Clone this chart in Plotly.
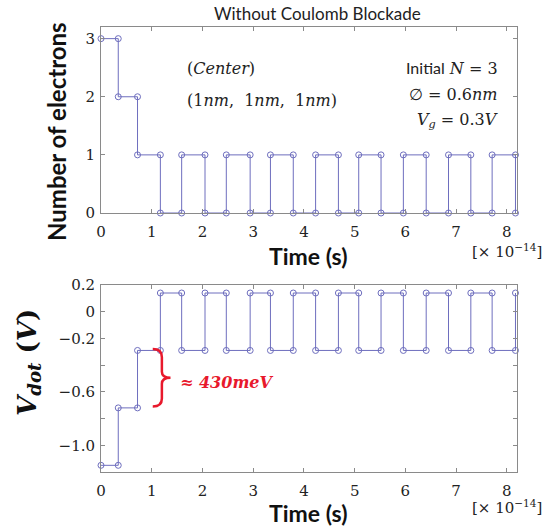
import plotly.graph_objects as go

# ---- data ----
switch_times = [0, 0.34, 0.72, 1.17, 1.59, 2.05, 2.47, 2.94, 3.34, 3.79, 4.23,
                4.68, 5.08, 5.52, 5.96, 6.41, 6.85, 7.29, 7.71, 8.17]
n_electrons = [3, 2, 1, 0, 1, 0, 1, 0, 1, 0, 1, 0, 1, 0, 1, 0, 1, 0, 1, 0]
v_dot = [-1.15, -0.72, -0.29, 0.14, -0.29, 0.14, -0.29, 0.14, -0.29, 0.14, -0.29,
         0.14, -0.29, 0.14, -0.29, 0.14, -0.29, 0.14, -0.29, 0.14]
x_ticks = [0, 1, 2, 3, 4, 5, 6, 7, 8]
y1_ticks = [0, 1, 2, 3]
y2_ticks = [-1.0, -0.6, -0.2, 0, 0.2]
y2_ticktext = ["−1.0", "−0.6", "−0.2", "0", "0.2"]
y2_minor_ticks = [-0.8, -0.4]


def steps(t, v):
    xs, ys = [], []
    for i in range(len(t) - 1):
        xs += [t[i], t[i + 1]]
        ys += [v[i], v[i]]
    xs.append(t[-1])
    ys.append(v[-1])
    return xs, ys


W, H = 556, 529
ML, MR, MT, MB = 101, 39, 27, 57
PW, PH = W - ML - MR, H - MT - MB


def px(x):
    return (x - ML) / PW


def py(y):
    return (H - MB - y) / PH


LINE = "#6e6ebe"
AX = "#8a8a8a"
SERIF = "DejaVu Serif"
SANS = "Lato"

fig = go.Figure()
x1, y1 = steps(switch_times, n_electrons)
x2, y2 = steps(switch_times, v_dot)
for xs, ys, xa, ya in [(x1, y1, "x", "y"), (x2, y2, "x2", "y2")]:
    fig.add_trace(go.Scatter(
        x=xs, y=ys, xaxis=xa, yaxis=ya, mode="lines+markers",
        line=dict(color=LINE, width=1),
        marker=dict(symbol="circle-open", size=6, color=LINE, line=dict(width=1)),
        cliponaxis=False, showlegend=False, hoverinfo="skip"))

axcommon = dict(showline=True, linecolor=AX, linewidth=1, mirror="ticks",
                ticks="inside", ticklen=4, tickcolor=AX, showgrid=False,
                zeroline=False, tickfont=dict(family=SERIF, size=15, color="#222"))

top_bottom = (H - MB - 213) / PH
bot_top = (H - MB - 285) / PH

fig.update_layout(
    width=W, height=H, plot_bgcolor="white", paper_bgcolor="white",
    margin=dict(l=ML, r=MR, t=MT, b=MB),
    xaxis=dict(domain=[0, 1], anchor="y", range=[0, 8.2], tickvals=x_ticks,
               ticklabelstandoff=5, **axcommon),
    yaxis=dict(domain=[top_bottom, 1], anchor="x", range=[0, 3.2], tickvals=y1_ticks,
               ticklabelstandoff=2, **axcommon),
    xaxis2=dict(domain=[0, 1], anchor="y2", range=[0, 8.2], tickvals=x_ticks,
                ticklabelstandoff=5, **axcommon),
    yaxis2=dict(domain=[0, bot_top], anchor="x2", range=[-1.2, 0.2], tickvals=y2_ticks,
                ticktext=y2_ticktext, ticklabelstandoff=2,
                minor=dict(tickvals=y2_minor_ticks, ticks="inside", ticklen=4, tickcolor=AX),
                **axcommon),
)

ann = []


def add(text, x, y, size, family, color="#111", xanchor="center", angle=0):
    ann.append(dict(text=text, x=px(x), y=py(y), xref="paper", yref="paper",
                    showarrow=False, xanchor=xanchor, yanchor="middle", textangle=angle,
                    font=dict(family=family, size=size, color=color)))


add("Without Coulomb Blockade", 317, 13, 17, SANS, "#222")
add("<b>Number of electrons</b>", 56, 132, 24, SANS, "#111", angle=-90)
add("<b>Time (s)</b>", 308, 256, 23, SANS)
add("<b>Time (s)</b>", 308, 513, 23, SANS)
add("[× 10<sup>−14</sup>]", 507, 251, 15, SERIF, "#222")
add("[× 10<sup>−14</sup>]", 507, 507, 15, SERIF, "#222")
add("(<i>Center</i>)", 185, 68, 16, SERIF, "#222", xanchor="left")
add("(1<i>nm</i>,  1<i>nm</i>,  1<i>nm</i>)", 185, 100, 16, SERIF, "#222", xanchor="left")
add("<span style='font-family:Lato'>Initial</span> <i>N</i> = 3", 500, 68, 16, SERIF, "#222", xanchor="right")
add("∅ = 0.6<i>nm</i>", 500, 94, 16, SERIF, "#222", xanchor="right")
add("<i>V</i><sub><i>g</i></sub> = 0.3<i>V</i>", 500, 121, 16, SERIF, "#222", xanchor="right")
add("<b><i>V</i><sub><i>dot</i></sub> (<i>V</i>)</b>", 29, 363, 26, SERIF, "#111", angle=-90)
add("<b><i>≈ 430meV</i></b>", 178, 382, 16, SERIF, "#e8192c", xanchor="left")
fig.update_layout(annotations=ann)

fig.add_shape(type="path", xref="x2", yref="y2",
              path="M 1.02,-0.28 Q 1.2,-0.28 1.2,-0.34 L 1.2,-0.45 Q 1.2,-0.495 1.37,-0.495 "
                   "Q 1.2,-0.495 1.2,-0.54 L 1.2,-0.65 Q 1.2,-0.71 1.02,-0.71",
              line=dict(color="#e8192c", width=2.5))

fig.write_html("out.html", config={"displayModeBar": False},
               post_script="document.body.style.margin='0';")
